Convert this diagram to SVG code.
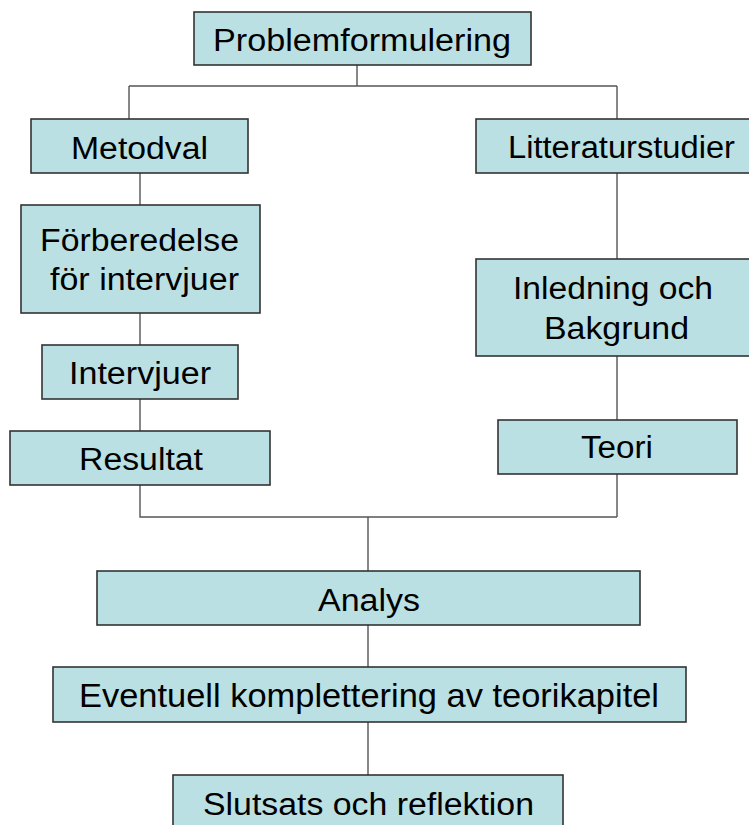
<svg xmlns="http://www.w3.org/2000/svg" width="749" height="825" viewBox="0 0 749 825">
<style>
.box{fill:#bae0e3;stroke:#333333;stroke-width:1.6}
.lbl{font-family:"Liberation Sans",Arial,sans-serif;font-size:31px;fill:#000000}
.c{fill:none;stroke:#555555;stroke-width:1.4}
</style>
<rect width="749" height="825" fill="#ffffff"/>
<g id="connectors">
<path class="c" d="M357,65 V86 M129,86 H617 M129,86 V119 M617,86 V119"/>
<path class="c" d="M140,173 V205 M140,313 V345 M140,399 V431 M140,485 V517 H617"/>
<path class="c" d="M617,173 V259 M617,356 V420 M617,474 V517"/>
<path class="c" d="M368,517 V571 M368,625 V667 M368,722 V775"/>
</g>
<g id="n-problem">
<rect class="box" x="194" y="12" width="337" height="53"/>
<text class="lbl" x="213" y="51" textLength="298" lengthAdjust="spacingAndGlyphs">Problemformulering</text>
</g>
<g id="n-metodval">
<rect class="box" x="31" y="119" width="217" height="54"/>
<text class="lbl" x="71" y="159" textLength="137" lengthAdjust="spacingAndGlyphs">Metodval</text>
</g>
<g id="n-litteratur">
<rect class="box" x="476" y="119" width="290" height="54"/>
<text class="lbl" x="508" y="158" textLength="227" lengthAdjust="spacingAndGlyphs">Litteraturstudier</text>
</g>
<g id="n-forberedelse">
<rect class="box" x="21" y="205" width="239" height="108"/>
<text class="lbl" x="40" y="251" textLength="199" lengthAdjust="spacingAndGlyphs">Förberedelse</text>
<text class="lbl" x="50" y="290" textLength="189" lengthAdjust="spacingAndGlyphs">för intervjuer</text>
</g>
<g id="n-inledning">
<rect class="box" x="476" y="259" width="290" height="97"/>
<text class="lbl" x="513" y="299" textLength="200" lengthAdjust="spacingAndGlyphs">Inledning och</text>
<text class="lbl" x="544" y="339" textLength="145" lengthAdjust="spacingAndGlyphs">Bakgrund</text>
</g>
<g id="n-intervjuer">
<rect class="box" x="42" y="345" width="196" height="54"/>
<text class="lbl" x="69" y="384" textLength="142" lengthAdjust="spacingAndGlyphs">Intervjuer</text>
</g>
<g id="n-teori">
<rect class="box" x="498" y="420" width="239" height="54"/>
<text class="lbl" x="581" y="458" textLength="72" lengthAdjust="spacingAndGlyphs">Teori</text>
</g>
<g id="n-resultat">
<rect class="box" x="10" y="431" width="260" height="54"/>
<text class="lbl" x="79" y="470" textLength="124" lengthAdjust="spacingAndGlyphs">Resultat</text>
</g>
<g id="n-analys">
<rect class="box" x="97" y="571" width="543" height="54"/>
<text class="lbl" x="318" y="611" textLength="102" lengthAdjust="spacingAndGlyphs">Analys</text>
</g>
<g id="n-eventuell">
<rect class="box" x="53" y="667" width="633" height="55"/>
<text class="lbl" x="79" y="707" style="font-size:32.5px" textLength="580" lengthAdjust="spacingAndGlyphs">Eventuell komplettering av teorikapitel</text>
</g>
<g id="n-slutsats">
<rect class="box" x="173" y="775" width="390" height="70"/>
<text class="lbl" x="203" y="815" textLength="331" lengthAdjust="spacingAndGlyphs">Slutsats och reflektion</text>
</g>
</svg>
